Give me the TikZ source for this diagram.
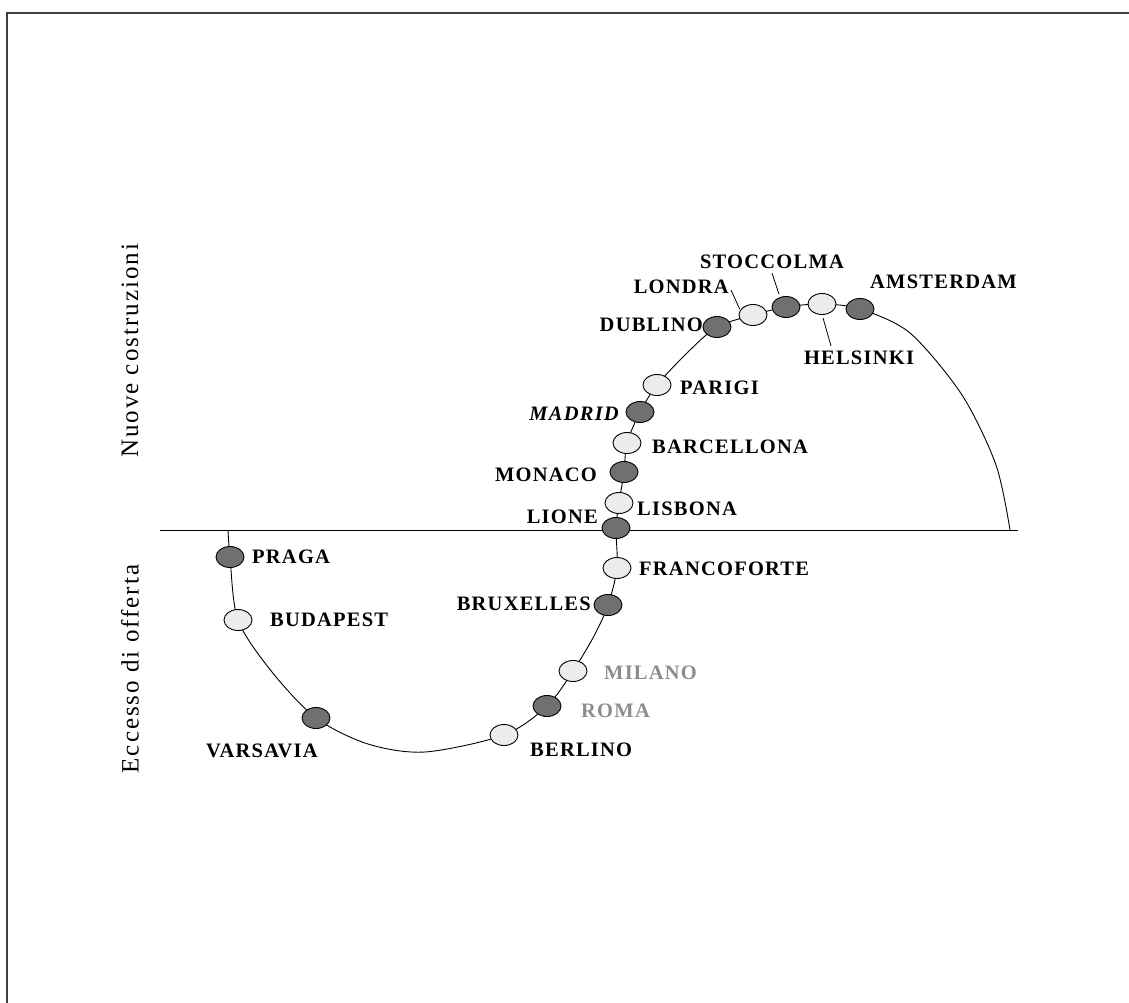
\documentclass[tikz,border=0pt]{standalone}
\usepackage{fontspec}
\setmainfont{Liberation Serif}
\usetikzlibrary{shapes.geometric,backgrounds}
\definecolor{stopdark}{HTML}{707070}
\definecolor{stoplight}{HTML}{ECECEC}
\definecolor{labelgray}{HTML}{8C8C8C}
\begin{document}
\begin{tikzpicture}[x=1pt,y=-1pt,
  stop/.style={ellipse,draw=black,line width=0.9pt,minimum width=28pt,minimum height=21pt,inner sep=0pt},
  full/.style={stop,fill=stopdark},
  empty/.style={stop,fill=stoplight},
  cityfont/.style={font=\fontsize{20.5}{20.5}\selectfont\bfseries\addfontfeature{LetterSpace=6}},
  city/.style={cityfont,inner sep=0pt},
  cityL/.style={city,anchor=west},
  cityR/.style={city,anchor=east},
  side/.style={font=\fontsize{25}{25}\selectfont\addfontfeature{LetterSpace=8},rotate=90,inner sep=0pt},
  track/.style={line width=0.9pt},
  leader/.style={line width=0.8pt}]
\useasboundingbox (0,0) rectangle (1129,1003);

% frame
\draw[line width=1.2pt,black!75] (7,1003) -- (7,13) -- (1129,13);

% axis separating the two regions
\coordinate (axL) at (160,530);
\coordinate (axR) at (1018,530);
\draw[track] (axL) -- (axR);

% side captions
\node[side] (nuove) at (130,351) {Nuove costruzioni};
\node[side] (eccesso) at (130,669) {Eccesso di offerta};

% stops
\node[full]  (praga)     at (230,557) {};
\node[empty] (budapest)  at (238,620) {};
\node[full]  (varsavia)  at (316,718) {};
\node[empty] (berlino)   at (504,735) {};
\node[full]  (roma)      at (547,706) {};
\node[empty] (milano)    at (573,671) {};
\node[full]  (bruxelles) at (608,605) {};
\node[empty] (francoforte) at (617,568) {};
\node[full]  (lione)     at (616,528) {};
\node[empty] (lisbona)   at (619,503) {};
\node[full]  (monaco)    at (624,472) {};
\node[empty] (barcellona) at (627,443) {};
\node[full]  (madrid)    at (640,412) {};
\node[empty] (parigi)    at (657,385) {};
\node[full]  (dublino)   at (717,327) {};
\node[empty] (londra)    at (753,315) {};
\node[full]  (stoccolma) at (786,307) {};
\node[empty] (helsinki)  at (822,304) {};
\node[full]  (amsterdam) at (860,309) {};

% curve points between stops
\coordinate (c0) at (228,530);
\coordinate (c1) at (272,672);
\coordinate (c2) at (368,744);
\coordinate (c3) at (425,752);
\coordinate (c4) at (594,636);
\coordinate (c5) at (688,352);
\coordinate (c6) at (910,333);
\coordinate (c7) at (962,395);
\coordinate (c8) at (996,465);
\coordinate (c9) at (1010,530);

\begin{scope}[on background layer]
\draw[track] plot[smooth,tension=0.5] coordinates {
  (c0) (praga) (budapest) (c1) (varsavia) (c2) (c3) (berlino) (roma) (milano) (c4)
  (bruxelles) (francoforte) (lione) (lisbona) (monaco) (barcellona) (madrid)
  (parigi) (c5) (dublino) (londra) (stoccolma) (helsinki) (amsterdam)
  (c6) (c7) (c8) (c9)};
\end{scope}

% labels
\node[cityL] (tpraga)    at (252,557) {PRAGA};
\node[cityL] (tbudapest) at (270,620) {BUDAPEST};
\node[city]  (tvarsavia) at (262,751) {VARSAVIA};
\node[cityL] (tberlino)  at (530,750) {BERLINO};
\node[cityL,text=labelgray] (troma)   at (581,711) {ROMA};
\node[cityL,text=labelgray] (tmilano) at (604,673) {MILANO};
\node[cityR] (tbruxelles) at (591,604) {BRUXELLES};
\node[cityL] (tfrancoforte) at (639,569) {FRANCOFORTE};
\node[cityR] (tlione)    at (598,517) {LIONE};
\node[cityL] (tlisbona)  at (637,509) {LISBONA};
\node[cityR] (tmonaco)   at (597,475) {MONACO};
\node[cityL] (tbarcellona) at (652,447) {BARCELLONA};
\node[cityR,font=\fontsize{20.5}{20.5}\selectfont\bfseries\itshape\addfontfeature{LetterSpace=6}] (tmadrid) at (619,414) {MADRID};
\node[cityL] (tparigi)   at (680,388) {PARIGI};
\node[cityR] (tdublino)  at (703,325) {DUBLINO};
\node[cityR] (tlondra)   at (729,287) {LONDRA};
\node[city]  (tstoccolma) at (772,262) {STOCCOLMA};
\node[cityL] (tamsterdam) at (870,282) {AMSTERDAM};
\node[city]  (thelsinki) at (859,358) {HELSINKI};

% leader lines
\draw[leader] ([xshift=2pt,yshift=-3pt]tlondra.east) -- ([xshift=-3pt,yshift=-2pt]londra.north west);
\draw[leader] ([yshift=-4pt]tstoccolma.south) -- ([xshift=-7pt,yshift=2pt]stoccolma.north);
\draw[leader] ([xshift=1pt,yshift=-3pt]helsinki.south) -- ([xshift=-28pt,yshift=5pt]thelsinki.north);
\end{tikzpicture}
\end{document}
